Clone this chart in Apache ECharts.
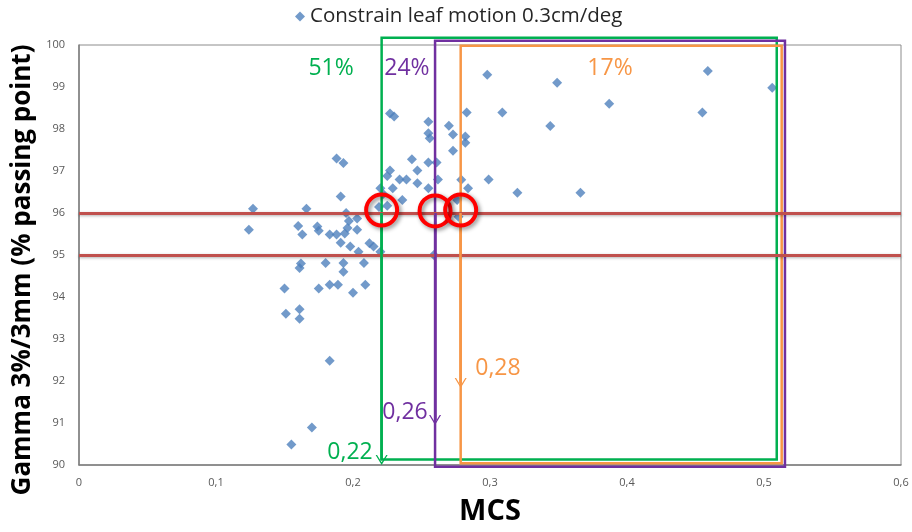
<!DOCTYPE html>
<html>
<head>
<meta charset="utf-8">
<script src="https://cdn.jsdelivr.net/npm/echarts@6/dist/echarts.min.js"></script>
<style>
  html, body { margin: 0; padding: 0; background: #fff; }
  #chart { width: 912px; height: 532px; }
</style>
</head>
<body>
<div id="chart"></div>
<script>
// MCS values (x) and gamma passing rate (y)
const mcs = [
  0.124, 0.127, 0.150, 0.151, 0.155, 0.160, 0.161, 0.161, 0.161, 0.162,
  0.163, 0.166, 0.170, 0.174, 0.175, 0.175, 0.180, 0.183, 0.183, 0.183,
  0.188, 0.193, 0.191, 0.188, 0.189, 0.191, 0.193, 0.193, 0.194, 0.195,
  0.197, 0.198, 0.196, 0.200, 0.203, 0.203, 0.204, 0.208, 0.209, 0.212,
  0.215, 0.220, 0.219, 0.220, 0.222, 0.225, 0.225, 0.227, 0.227, 0.230,
  0.229, 0.234, 0.239, 0.236, 0.243, 0.247, 0.247, 0.255, 0.255, 0.256,
  0.255, 0.261, 0.262, 0.255, 0.259, 0.270, 0.273, 0.273, 0.283, 0.282,
  0.282, 0.279, 0.284, 0.276, 0.277, 0.299, 0.298, 0.349, 0.459, 0.506,
  0.309, 0.387, 0.455, 0.344, 0.320, 0.366
];
const gamma = [
  95.60, 96.10, 94.20, 93.60, 90.49, 95.69, 93.71, 93.48, 94.69, 94.80,
  95.49, 96.10, 90.89, 95.68, 95.58, 94.20, 94.81, 94.29, 92.48, 95.49,
  97.30, 97.19, 96.39, 95.49, 94.29, 95.29, 94.81, 94.60, 95.51, 96.00,
  95.81, 95.20, 95.64, 94.10, 95.87, 95.60, 95.08, 94.81, 94.29, 95.28,
  95.20, 95.08, 96.14, 96.59, 96.45, 96.17, 96.88, 97.01, 98.37, 98.30,
  96.59, 96.80, 96.80, 96.31, 97.28, 97.01, 96.71, 98.17, 97.90, 97.78,
  97.20, 97.20, 96.80, 96.59, 95.00, 98.08, 97.87, 97.48, 98.39, 97.82,
  97.67, 96.79, 96.59, 96.31, 95.91, 96.80, 99.29, 99.10, 99.38, 98.98,
  98.39, 98.60, 98.39, 98.07, 96.48, 96.48
];

const xTickLabels = ['0', '0,1', '0,2', '0,3', '0,4', '0,5', '0,6'];
const yTickLabels = ['90', '91', '92', '93', '94', '95', '96', '97', '98', '99', '100'];

// threshold lines and the three MCS cut-offs
const thresholds = [96, 95];
const cutNames = ['0,22', '0,26', '0,28'];
const cutX = [0.2209, 0.2599, 0.2786];
const cutRight = [0.5093, 0.5153, 0.5129];
const cutTop = [100.17, 100.10, 99.98];
const cutBottom = [90.13, 89.96, 90.04];
const arrowTip = [90.12, 91.07, 91.95];
const shares = ['51%', '24%', '17%'];
const shareX = [0.184, 0.2394, 0.3876];
const cutLabelX = [0.1978, 0.238, 0.3058];
const cutLabelY = [90.29, 91.24, 92.31];
const circleY = [96.07, 96.05, 96.07];
const cutColors = ['#00B050', '#7030A0', '#F79646'];

const chevron = 'path://M0,10L6,0L12,10L10.6,10L6,2.6L1.4,10Z';

const chart = echarts.init(document.getElementById('chart'));

const cutSeries = cutX.map((x, i) => ({
  type: 'scatter',
  name: 'cut' + i,
  data: [],
  clip: false,
  silent: true,
  markLine: {
    silent: true,
    symbol: ['none', chevron],
    symbolSize: [12, 10],
    label: { show: false },
    lineStyle: { color: cutColors[i], width: 2.5, type: 'solid' },
    data: [[
      { coord: [x, 96] },
      { coord: [x, arrowTip[i]] },
    ]],
  },
  markPoint: {
    silent: true,
    symbol: 'circle',
    symbolSize: 1,
    itemStyle: { color: 'rgba(0,0,0,0)' },
    label: {
      show: true,
      position: 'inside',
      color: cutColors[i],
      fontSize: 23,
      fontFamily: 'Open Sans',
    },
    data: [
      { coord: [shareX[i], 99.45], label: { formatter: shares[i] } },
      { coord: [cutLabelX[i], cutLabelY[i]], label: { formatter: cutNames[i] } },
    ],
  },
}));

// boxes drawn with a custom series so their edges may run past the plot border
const boxSeries = {
  type: 'custom',
  name: 'boxes',
  clip: false,
  silent: true,
  z: 4,
  data: cutX.map((x, i) => [x, cutRight[i], cutBottom[i], cutTop[i]]),
  renderItem: (params, api) => {
    const p0 = api.coord([api.value(0), api.value(3)]);
    const p1 = api.coord([api.value(1), api.value(2)]);
    return {
      type: 'rect',
      shape: { x: p0[0], y: p0[1], width: p1[0] - p0[0], height: p1[1] - p0[1] },
      style: { fill: 'none', stroke: cutColors[params.dataIndex], lineWidth: 2.5 },
    };
  },
};

const option = {
  animation: false,
  textStyle: { fontFamily: 'Open Sans' },
  legend: {
    data: ['Constrain leaf motion 0.3cm/deg'],
    left: 290,
    top: 1,
    icon: 'diamond',
    itemWidth: 10,
    itemHeight: 10,
    itemGap: 6,
    textStyle: { fontSize: 20.5, color: '#262626', fontFamily: 'Open Sans' },
  },
  grid: {
    left: 79,
    right: 11,
    top: 45,
    bottom: 67,
    show: true,
    borderColor: '#8c8c8c',
    borderWidth: 1,
    outerBoundsMode: 'none',
  },
  xAxis: {
    type: 'value',
    min: 0,
    max: 0.6,
    interval: 0.1,
    name: 'MCS',
    nameLocation: 'middle',
    nameGap: 32,
    nameTextStyle: { fontSize: 29, fontWeight: 'bold', color: '#000' },
    axisLine: { show: true, lineStyle: { color: '#7f7f7f', width: 1.5 } },
    axisTick: { show: false },
    splitLine: { show: false },
    axisLabel: {
      color: '#595959',
      fontSize: 11,
      margin: 12,
      formatter: (v) => xTickLabels[Math.round(v * 10)],
    },
  },
  yAxis: {
    type: 'value',
    min: 90,
    max: 100,
    interval: 1,
    name: 'Gamma 3%/3mm (% passing point)',
    nameLocation: 'middle',
    nameGap: 38,
    nameTextStyle: { fontSize: 26, fontWeight: 'bold', color: '#000', padding: [0, 30, 0, 0] },
    axisLine: { show: true, lineStyle: { color: '#7f7f7f', width: 1.5 } },
    axisTick: { show: false },
    splitLine: { show: false },
    axisLabel: {
      color: '#595959',
      fontSize: 11,
      margin: 14,
      formatter: (v) => yTickLabels[Math.round(v - 90)],
    },
  },
  series: [
    {
      type: 'scatter',
      name: 'Constrain leaf motion 0.3cm/deg',
      symbol: 'diamond',
      symbolSize: 10,
      itemStyle: { color: '#4F81BD' },
      data: mcs.map((x, i) => [x, gamma[i]]),
      z: 3,
      markLine: {
        silent: true,
        symbol: 'none',
        label: { show: false },
        lineStyle: {
          color: '#C0504D',
          width: 3,
          type: 'solid',
          shadowBlur: 3,
          shadowColor: 'rgba(0,0,0,0.3)',
          shadowOffsetY: 1,
        },
        data: thresholds.map((t) => ({ yAxis: t })),
      },
    },
    boxSeries,
    ...cutSeries,
    {
      type: 'scatter',
      name: 'circles',
      data: [],
      clip: false,
      silent: true,
      z: 5,
      markPoint: {
        silent: true,
        symbol: 'circle',
        symbolSize: 31,
        label: { show: false },
        itemStyle: {
          color: 'rgba(0,0,0,0)',
          borderColor: '#FF0000',
          borderWidth: 4,
          shadowBlur: 4,
          shadowColor: 'rgba(0,0,0,0.45)',
          shadowOffsetX: 2,
          shadowOffsetY: 2,
        },
        data: cutX.map((x, i) => ({ coord: [x, circleY[i]] })),
      },
    },
  ],
};

chart.setOption(option);
</script>
</body>
</html>
